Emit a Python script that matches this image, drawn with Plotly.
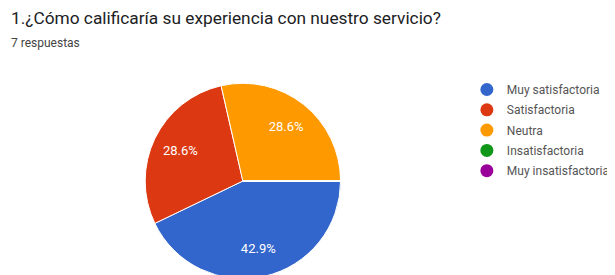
import plotly.graph_objects as go

labels = ["Muy satisfactoria", "Satisfactoria", "Neutra", "Insatisfactoria", "Muy insatisfactoria"]
values = [3, 2, 2, 0, 0]
colors = ["#3366cc", "#dc3912", "#ff9900", "#109618", "#990099"]
title_text = "1.¿Cómo calificaría su experiencia con nuestro servicio?"
subtitle_text = "7 respuestas"

W, H = 607, 275
cx, cy, R = 238, 173, 99  # pie centre/radius in figure pixels (from top-left)

dom = dict(x=[(cx - R) / W, (cx + R) / W], y=[(H - cy - R) / H, (H - cy + R) / H])

fig = go.Figure()
# full pie (no text)
fig.add_trace(go.Pie(
    labels=labels, values=values, sort=False, direction="clockwise", rotation=90,
    marker=dict(colors=colors, line=dict(color="white", width=1)),
    textinfo="none", showlegend=False, hoverinfo="label+percent", domain=dom,
))
# transparent ring carrying the percentage labels (places labels further out like the original)
fig.add_trace(go.Pie(
    labels=labels, values=values, sort=False, direction="clockwise", rotation=90,
    hole=0.42,
    marker=dict(colors=["rgba(0,0,0,0)"] * len(labels), line=dict(width=0)),
    texttemplate="%{percent:.1%}", textposition="inside",
    insidetextorientation="horizontal",
    textfont=dict(color="white", size=13, family="Roboto"),
    showlegend=False, hoverinfo="skip", domain=dom,
))
for lab, col in zip(labels, colors):
    fig.add_trace(go.Scatter(
        x=[None], y=[None], mode="markers", name=lab, legendgroup=lab,
        marker=dict(symbol="circle", size=13, color=col),
        showlegend=True,
    ))

fig.update_layout(
    width=W, height=H,
    margin=dict(l=0, r=0, t=0, b=0),
    paper_bgcolor="white", plot_bgcolor="white",
    font=dict(family="Roboto", color="#444"),
    xaxis=dict(visible=False), yaxis=dict(visible=False),
    legend=dict(x=465 / W, y=1 - 67 / H, xanchor="left", yanchor="top",
                font=dict(size=12, color="#555", family="Roboto"),
                itemwidth=30, tracegroupgap=1.3, bgcolor="rgba(0,0,0,0)"),
    annotations=[
        dict(text=title_text, x=1 / W, y=1 - 10 / H, xref="paper", yref="paper",
             xanchor="left", yanchor="middle", showarrow=False,
             font=dict(size=17.3, color="#202124", family="Roboto")),
        dict(text=subtitle_text, x=1 / W, y=1 - 35 / H, xref="paper", yref="paper",
             xanchor="left", yanchor="middle", showarrow=False,
             font=dict(size=12, color="#444", family="Roboto")),
    ],
)
fig.write_html("out.html")
